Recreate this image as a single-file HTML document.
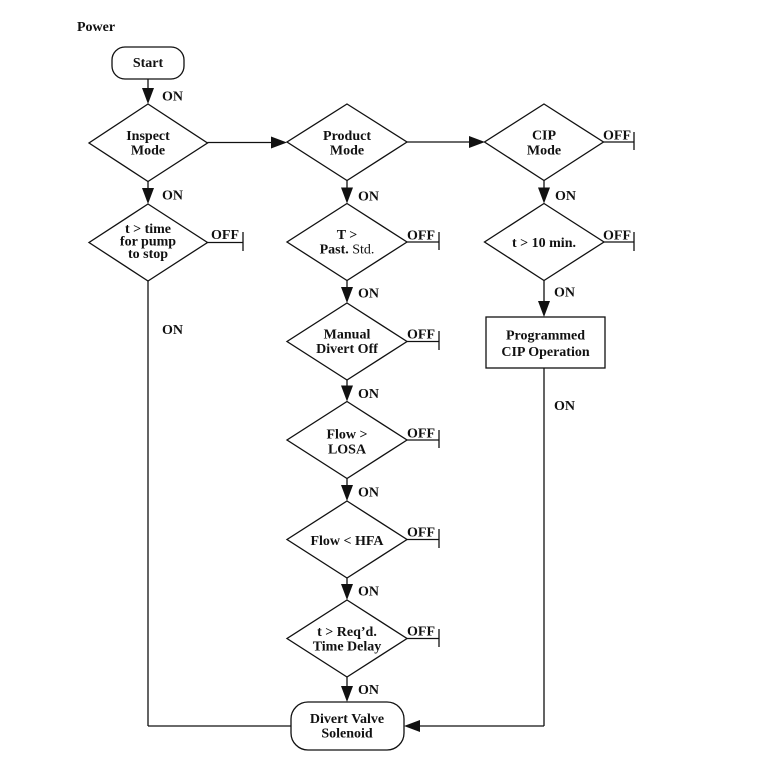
<!DOCTYPE html>
<html><head><meta charset="utf-8"><style>
html,body{margin:0;padding:0;background:#fff;}
svg{display:block;}
text{font-family:"Liberation Serif",serif;font-weight:bold;font-size:14px;fill:#111;}
.c{text-anchor:middle;}
</style></head><body>
<svg width="760" height="759" viewBox="0 0 760 759" xmlns="http://www.w3.org/2000/svg">
<g stroke="#111" stroke-width="1.3" fill="none">
<!-- Start -->
<rect x="112" y="47" width="72" height="32" rx="13" ry="13"/>
<line x1="148" y1="79" x2="148" y2="90"/>
<!-- Inspect diamond -->
<polygon points="148,104 207.5,143 148,181.5 89,143"/>
<line x1="148" y1="181.5" x2="148" y2="190"/>
<!-- t>time -->
<polygon points="148,204 207.5,242.5 148,281 89,242.5"/>
<line x1="207.5" y1="242.5" x2="243" y2="242.5"/>
<line x1="243" y1="232" x2="243" y2="251"/>
<line x1="148" y1="281" x2="148" y2="726"/>
<line x1="148" y1="726" x2="291" y2="726"/>
<!-- horizontal arrows -->
<line x1="207.5" y1="142.5" x2="272" y2="142.5"/>
<line x1="407" y1="142" x2="470" y2="142"/>
<!-- Product column -->
<polygon points="347,104 407,142 347,180.5 287,142"/>
<line x1="347" y1="180.5" x2="347" y2="189"/>
<polygon points="347,203.5 407,242 347,280.5 287,242"/>
<line x1="407" y1="242" x2="439" y2="242"/><line x1="439" y1="232" x2="439" y2="250"/>
<line x1="347" y1="280.5" x2="347" y2="289"/>
<polygon points="347,303 407,341.5 347,380 287,341.5"/>
<line x1="407" y1="341.5" x2="439" y2="341.5"/><line x1="439" y1="331" x2="439" y2="350"/>
<line x1="347" y1="380" x2="347" y2="387"/>
<polygon points="347,401.5 407,440 347,478.5 287,440"/>
<line x1="407" y1="440" x2="439" y2="440"/><line x1="439" y1="430" x2="439" y2="448"/>
<line x1="347" y1="478.5" x2="347" y2="486"/>
<polygon points="347,501 407,539.5 347,578 287,539.5"/>
<line x1="407" y1="539.5" x2="439" y2="539.5"/><line x1="439" y1="529" x2="439" y2="548"/>
<line x1="347" y1="578" x2="347" y2="585"/>
<polygon points="347,600 407,638.5 347,677 287,638.5"/>
<line x1="407" y1="638.5" x2="439" y2="638.5"/><line x1="439" y1="629" x2="439" y2="647"/>
<line x1="347" y1="677" x2="347" y2="687"/>
<!-- Divert -->
<rect x="291" y="702" width="113" height="48" rx="17" ry="17"/>
<!-- CIP column -->
<polygon points="544,104 603.5,142 544,180.5 484.5,142"/>
<line x1="603.5" y1="142" x2="634" y2="142"/><line x1="634" y1="132" x2="634" y2="150"/>
<line x1="544" y1="180.5" x2="544" y2="189"/>
<polygon points="544,203.5 604,242 544,280.5 484.5,242"/>
<line x1="604" y1="242" x2="634" y2="242"/><line x1="634" y1="232" x2="634" y2="251"/>
<line x1="544" y1="280.5" x2="544" y2="302"/>
<rect x="486" y="317" width="119" height="51"/>
<line x1="544" y1="368" x2="544" y2="726"/>
<line x1="544" y1="726" x2="418" y2="726"/>
</g>
<g fill="#111" stroke="none">
<!-- vertical arrowheads -->
<polygon points="142,88 154,88 148,104"/>
<polygon points="142,188 154,188 148,204"/>
<polygon points="341,187.5 353,187.5 347,203.5"/>
<polygon points="341,287 353,287 347,303"/>
<polygon points="341,385.5 353,385.5 347,401.5"/>
<polygon points="341,485 353,485 347,501"/>
<polygon points="341,584 353,584 347,600"/>
<polygon points="341,686 353,686 347,702"/>
<polygon points="538,187.5 550,187.5 544,203.5"/>
<polygon points="538,301 550,301 544,317"/>
<!-- horizontal arrowheads -->
<polygon points="271,136.5 271,148.5 287,142.5"/>
<polygon points="469,136 469,148 485,142"/>
<polygon points="420,720 420,732 404,726"/>
</g>
<text x="77" y="31">Power</text>
<text class="c" x="148" y="67">Start</text>
<text class="c" x="148" y="140">Inspect</text>
<text class="c" x="148" y="154.5">Mode</text>
<text class="c" x="148" y="233">t &gt; time</text>
<text class="c" x="148" y="245.5">for pump</text>
<text class="c" x="148" y="258">to stop</text>
<text x="211" y="239">OFF</text>
<text x="162" y="100.5">ON</text>
<text x="162" y="199.5">ON</text>
<text x="162" y="334">ON</text>
<text class="c" x="347" y="140">Product</text>
<text class="c" x="347" y="154.5">Mode</text>
<text class="c" x="347" y="239">T &gt;</text>
<text class="c" x="347" y="253.5">Past. <tspan font-weight="normal">Std.</tspan></text>
<text class="c" x="347" y="338.5">Manual</text>
<text class="c" x="347" y="353">Divert Off</text>
<text class="c" x="347" y="438.5">Flow &gt;</text>
<text class="c" x="347" y="453.5">LOSA</text>
<text class="c" x="347" y="545">Flow &lt; HFA</text>
<text class="c" x="347" y="636">t &gt; Req’d.</text>
<text class="c" x="347" y="650.5">Time Delay</text>
<text class="c" x="347" y="723">Divert Valve</text>
<text class="c" x="347" y="737.5">Solenoid</text>
<text x="407" y="239.5">OFF</text>
<text x="407" y="338.5">OFF</text>
<text x="407" y="437.5">OFF</text>
<text x="407" y="536.5">OFF</text>
<text x="407" y="635.5">OFF</text>
<text x="358" y="200.5">ON</text>
<text x="358" y="297.5">ON</text>
<text x="358" y="398">ON</text>
<text x="358" y="496.5">ON</text>
<text x="358" y="595.5">ON</text>
<text x="358" y="694">ON</text>
<text class="c" x="544" y="139.5">CIP</text>
<text class="c" x="544" y="154.5">Mode</text>
<text class="c" x="544" y="247">t &gt; 10 min.</text>
<text class="c" x="545.5" y="339.5">Programmed</text>
<text class="c" x="545.5" y="356">CIP Operation</text>
<text x="603" y="139.5">OFF</text>
<text x="603" y="239.5">OFF</text>
<text x="555" y="200">ON</text>
<text x="554" y="296.5">ON</text>
<text x="554" y="410">ON</text>
</svg>
</body></html>
